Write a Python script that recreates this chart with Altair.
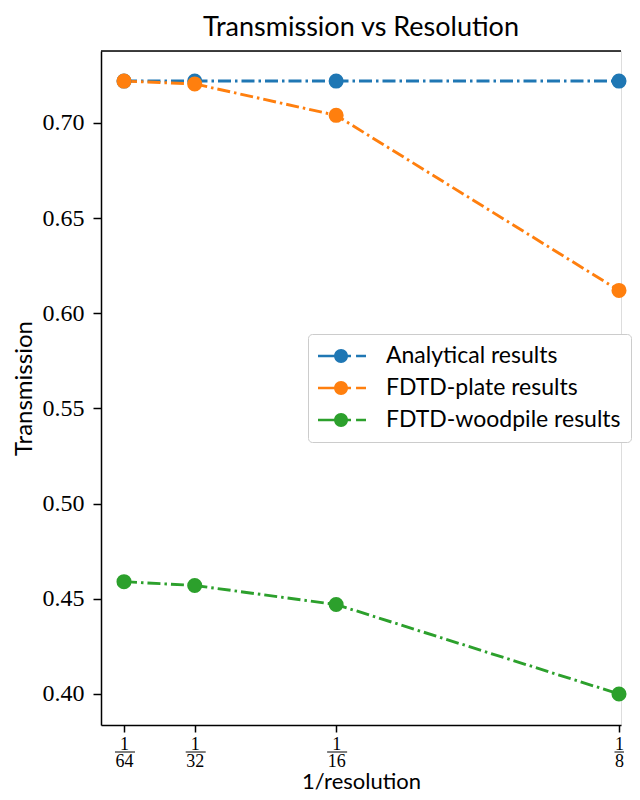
import altair as alt
import pandas as pd

# ---- data ----
x_values = [1/64, 1/32, 1/16, 1/8]
x_denoms = ["64", "32", "16", "8"]
analytical = [0.722, 0.722, 0.722, 0.722]
fdtd_plate = [0.722, 0.7205, 0.704, 0.612]
fdtd_woodpile = [0.459, 0.457, 0.447, 0.400]
series_names = ["Analytical results", "FDTD-plate results", "FDTD-woodpile results"]
colors = ["#1f77b4", "#ff7f0e", "#2ca02c"]
y_ticks = [0.40, 0.45, 0.50, 0.55, 0.60, 0.65, 0.70]

rows = []
for name, vals in zip(series_names, [analytical, fdtd_plate, fdtd_woodpile]):
    for x, v in zip(x_values, vals):
        rows.append({"x": x, "T": v, "series": name})
df = pd.DataFrame(rows)
ticks_df = pd.DataFrame({"x": x_values, "den": x_denoms,
                         "ndig": [len(d) for d in x_denoms]})

W, H = 520, 674
SANS = "Lato"
SERIF = "Liberation Serif"

# fraction labels: numerator and denominator on two lines
parts = [f"datum.value == {xv} ? ['1', '{d}']" for xv, d in zip(x_values, x_denoms)]
label_expr = " : ".join(parts) + " : ''"

xscale = alt.Scale(domain=[0.010543, 0.125443], nice=False, zero=False)
yscale = alt.Scale(domain=[0.3837, 0.7378], nice=False, zero=False)

x_axis = alt.Axis(values=x_values, labelExpr=label_expr, title="1/resolution",
                  labelFont=SERIF, labelFontSize=18, labelLineHeight=17,
                  labelPadding=3, tickSize=7, tickWidth=1.5, domainWidth=1.5,
                  domainColor="black", tickColor="black", labelColor="black",
                  titleFont=SANS, titleFontSize=22, titleFontWeight="normal",
                  titleColor="black", titlePadding=1, grid=False, labelFlush=False)
y_axis = alt.Axis(values=y_ticks, format=".2f", title="Transmission",
                  labelFont=SERIF, labelFontSize=24, labelPadding=9,
                  tickSize=8, tickWidth=1.5, domainWidth=1.5,
                  domainColor="black", tickColor="black", labelColor="black",
                  titleFont=SANS, titleFontSize=24, titleFontWeight="normal",
                  titleColor="black", titlePadding=6, grid=False)

color_scale = alt.Scale(domain=series_names, range=colors)

legend_path = ("M-1,-0.1H1.75V0.1H-1Z M2.17,-0.1H3V0.1H2.17Z "
               "M1.5,0A0.58,0.58 0 1,1 0.34,0A0.58,0.58 0 1,1 1.5,0Z")

def make_legend():
    return alt.Legend(title=None, orient="none", legendX=207, legendY=283,
                      symbolType=legend_path, symbolSize=576, symbolStrokeWidth=0,
                      symbolOpacity=1, labelOffset=44, labelFont=SANS, labelFontSize=23,
                      labelColor="black", rowPadding=8, padding=10,
                      strokeColor="#cccccc", fillColor="white", cornerRadius=4,
                      labelLimit=400)

base = alt.Chart(df)

lines = base.mark_line(strokeWidth=2.9, strokeDash=[13, 4, 2.5, 4]).encode(
    x=alt.X("x:Q", scale=xscale, axis=x_axis),
    y=alt.Y("T:Q", scale=yscale, axis=y_axis),
    color=alt.Color("series:N", scale=color_scale, legend=make_legend()),
    detail="series:N",
)

points = base.mark_point(filled=True, size=227, opacity=1).encode(
    x=alt.X("x:Q", scale=xscale),
    y=alt.Y("T:Q", scale=yscale),
    color=alt.Color("series:N", scale=color_scale, legend=make_legend()),
)

# fraction bars between numerator and denominator of the tick labels
BAR_Y = H + 27
bars2 = alt.Chart(ticks_df).transform_filter("datum.ndig == 2").mark_rule(
    color="black", strokeWidth=1, xOffset=-9, x2Offset=11).encode(
    x=alt.X("x:Q", scale=xscale), x2="x:Q", y=alt.value(BAR_Y))
bars1 = alt.Chart(ticks_df).transform_filter("datum.ndig == 1").mark_rule(
    color="black", strokeWidth=1, xOffset=-4.5, x2Offset=5).encode(
    x=alt.X("x:Q", scale=xscale), x2="x:Q", y=alt.value(BAR_Y))

top_spine = alt.Chart(pd.DataFrame({"a": [0]})).mark_rule(
    color="black", strokeWidth=1.5).encode(
    x=alt.value(0), x2=alt.value(W), y=alt.value(0))

chart = alt.layer(lines, points, bars2, bars1, top_spine).properties(
    width=W, height=H,
    padding={"left": 4, "top": 6, "right": 0, "bottom": 0},
    title=alt.TitleParams("Transmission vs Resolution", font=SANS, fontSize=27,
                          fontWeight="normal", color="black", offset=8),
).configure_view(stroke=None).configure(background="white")

chart.save("out.html", embed_options={"renderer": "svg", "actions": False})
